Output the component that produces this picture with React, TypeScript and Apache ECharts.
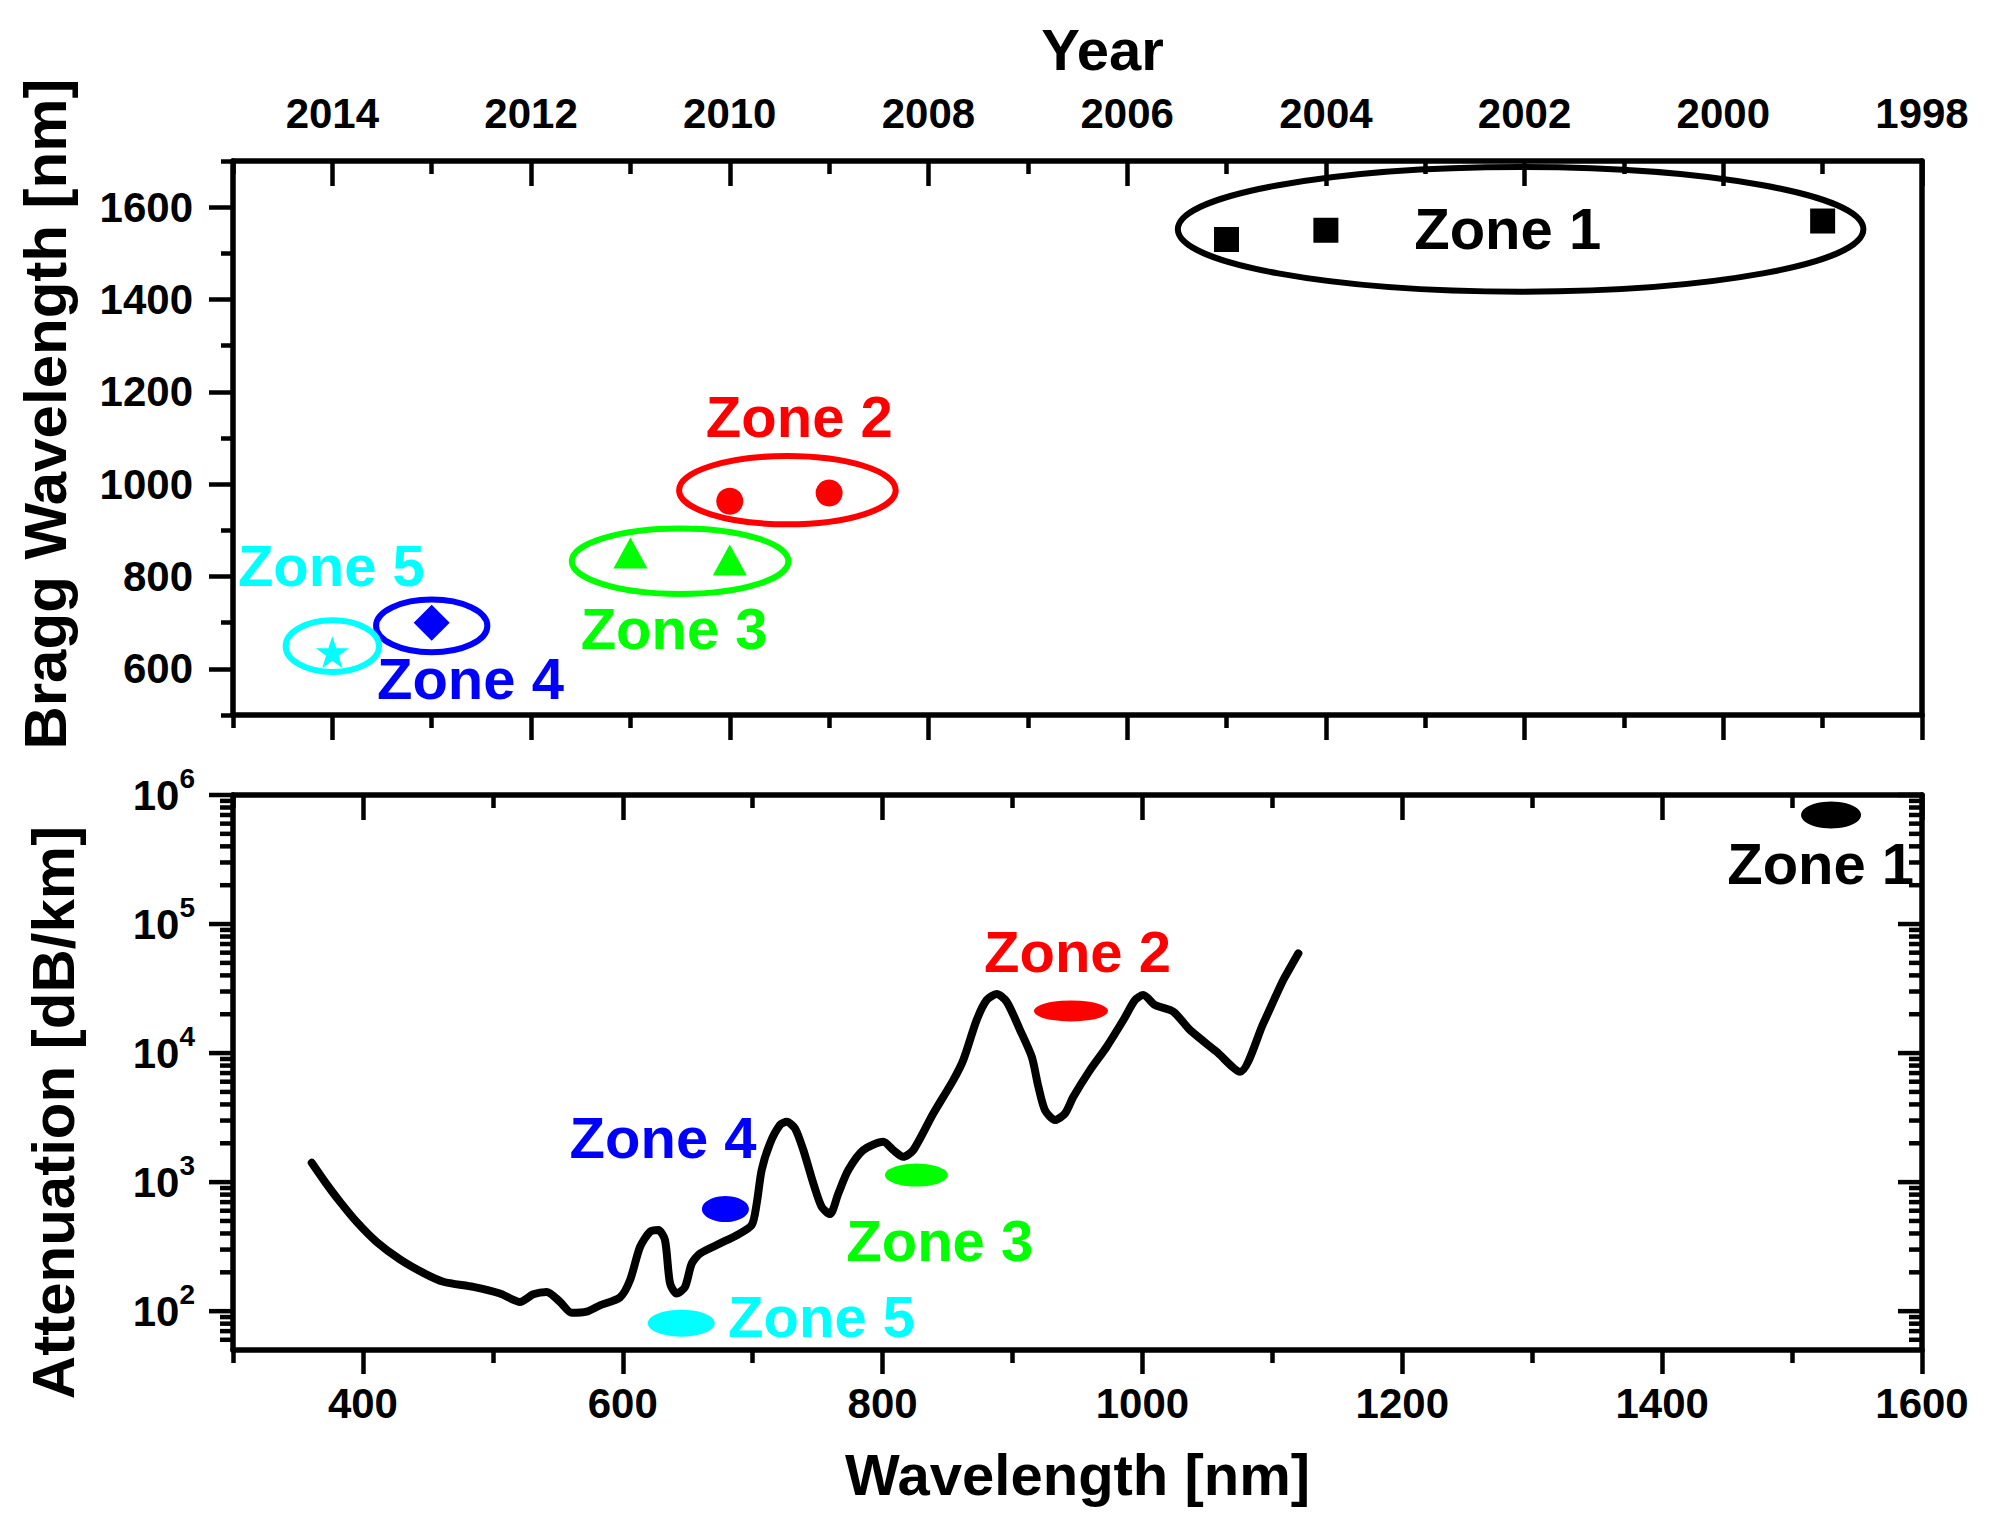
import React, { useEffect, useRef } from 'react';
import * as echarts from 'echarts';

const FONT = '"Liberation Sans", Arial, Helvetica, sans-serif';

// --- zones ---
const zoneNames = ['Zone 1', 'Zone 2', 'Zone 3', 'Zone 4', 'Zone 5'];
const zoneColors = ['#000000', '#FF0000', '#00FF00', '#0000FF', '#00FFFF'];
const STAR = 'path://M12,0 L14.9,8.6 L24,8.6 L16.6,14 L19.4,22.8 L12,17.4 L4.6,22.8 L7.4,14 L0,8.6 L9.1,8.6 Z';
const zoneSymbols = ['rect', 'circle', 'triangle', 'diamond', STAR];
const zoneSymbolSizes = [[25, 25], [27, 27], [34, 31], [36, 36], [33, 32]];

// --- top panel: Bragg wavelength [nm] vs year ---
const braggZone1 = [[2005, 1530], [2004, 1550], [1999, 1570]];
const braggZone2 = [[2010, 963], [2009, 981]];
const braggZone3 = [[2011, 851], [2010, 836]];
const braggZone4 = [[2013, 700]];
const braggZone5 = [[2014, 636]];
const braggPoints = [braggZone1, braggZone2, braggZone3, braggZone4, braggZone5];

// ellipse round each zone: [centre year, centre nm, half width (years), half height (nm)]
const braggEllipses = [
  [2002.04, 1552, 3.45, 135],
  [2009.42, 987, 1.09, 74],
  [2010.5, 833, 1.09, 71],
  [2013.0, 693, 0.56, 57],
  [2014.0, 649, 0.47, 56],
];
const braggLabelAt = [[2002.17, 1554], [2009.3, 1147], [2010.56, 688], [2012.61, 580], [2014.01, 824]];

const yearMajor = [1998, 2000, 2002, 2004, 2006, 2008, 2010, 2012, 2014];
const yearMinor = [1999, 2001, 2003, 2005, 2007, 2009, 2011, 2013, 2015];
const braggMajor = [600, 800, 1000, 1200, 1400, 1600];
const braggMinor = [500, 700, 900, 1100, 1300, 1500, 1700];

// --- bottom panel: attenuation [dB/km] vs wavelength [nm] ---
const attenuationCurve = [
  [360.6, 1412], [370.8, 1005], [382.4, 703], [395.2, 492], [410.6, 344], [428.5, 252],
  [446.5, 198], [461.9, 169], [485, 154], [505.5, 137], [520.9, 118], [531.1, 135],
  [541.4, 141], [551.7, 118], [560.7, 97], [572.2, 99], [582.5, 111], [597.9, 128],
  [605.6, 174], [613.3, 315], [621, 412], [627.4, 425], [632.5, 355], [636.4, 164],
  [641.5, 137], [647.9, 154], [653.1, 234], [659.5, 280], [674.9, 335], [687.7, 388],
  [699.2, 464], [703.1, 684], [706.9, 1239], [713.3, 1995], [721, 2767], [726.2, 2930],
  [732.6, 2606], [739, 1770], [746.7, 977], [753.1, 643], [759.5, 565], [765.9, 817],
  [773.6, 1239], [785.1, 1770], [800.5, 2052], [808.2, 1770], [815.9, 1570], [823.6, 1770],
  [839, 3404], [854.4, 6175], [862.1, 8830], [872.4, 18030], [880.1, 25770], [887.8, 28660],
  [895.5, 25000], [905.8, 15080], [914.8, 9350], [919.9, 5480], [925, 3610], [932.7, 3027],
  [940.4, 3404], [946.8, 4580], [959.6, 7380], [972.5, 11200], [985.3, 18030], [994.3, 25770],
  [1000.6, 28180], [1009.7, 23550], [1023.8, 20900], [1036.6, 15080], [1057.1, 10230],
  [1075.1, 7160], [1093, 16980], [1108.4, 36800], [1120, 59290],
];
const zoneAttenuation = [[1530, 7.0e5], [945, 2.12e4], [826, 1133], [679, 618], [645, 80.7]];
const zoneMarkSizes = [[60, 27], [74, 21], [63, 23], [47, 26], [67, 27]];
const attLabelAt = [[1522, 2.97e5], [950, 6.18e4], [844, 355], [631, 2233], [753, 91.4]];

const nmMajor = [400, 600, 800, 1000, 1200, 1400, 1600];
const nmMinor = [300, 500, 700, 900, 1100, 1300, 1500];
const logMajor = [1e2, 1e3, 1e4, 1e5, 1e6];
const logMinor = [
  60, 70, 80, 90,
  200, 300, 400, 500, 600, 700, 800, 900,
  2000, 3000, 4000, 5000, 6000, 7000, 8000, 9000,
  20000, 30000, 40000, 50000, 60000, 70000, 80000, 90000,
  200000, 300000, 400000, 500000, 600000, 700000, 800000, 900000,
];

const NM_MIN = 300;
const NM_MAX = 1600;

const axisLine = { show: true, onZero: false, lineStyle: { color: '#000', width: 5.5 } };
const tickStyle = { color: '#000', width: 4.5 };
const tickLabel = { fontSize: 42, fontWeight: 'bold', fontFamily: FONT, color: '#000' };
const nameStyle = { fontSize: 58, fontWeight: 'bold', fontFamily: FONT, color: '#000' };

const tickAxis = (base: any, values: number[], length: number, inside: boolean, line: boolean) => ({
  ...base,
  axisLine: line ? axisLine : { show: false },
  axisTick: { show: true, inside, length, customValues: values, lineStyle: tickStyle },
  axisLabel: { show: false },
  splitLine: { show: false },
});

const App: React.FC = () => {
  const chartRef = useRef<HTMLDivElement>(null);

  useEffect(() => {
    if (!chartRef.current) return;
    const chart = echarts.init(chartRef.current, null, { renderer: 'svg' });

    const yearBase = { type: 'value', gridIndex: 0, min: 1998, max: 2015, inverse: true };
    const braggBase = { type: 'value', gridIndex: 0, min: 500, max: 1700 };
    const nmBase = { type: 'value', gridIndex: 1, min: NM_MIN, max: NM_MAX };
    const attBase = { type: 'log', logBase: 10, gridIndex: 1, min: 50, max: 1e6 };

    // log-axis ticks (left outside, right inside), placed through the axis scale
    const logTicks = (values: number[], length: number) => ({
      type: 'custom',
      xAxisIndex: 4,
      yAxisIndex: 3,
      silent: true,
      z: 5,
      data: values.map(v => [NM_MIN, v]),
      renderItem: (_params: any, api: any) => {
        const v = api.value(1);
        const l = api.coord([NM_MIN, v]);
        const r = api.coord([NM_MAX, v]);
        return {
          type: 'group',
          children: [
            { type: 'line', shape: { x1: l[0] - length, y1: l[1], x2: l[0], y2: l[1] }, style: { stroke: '#000', lineWidth: 4.5 } },
            { type: 'line', shape: { x1: r[0] - length, y1: r[1], x2: r[0], y2: r[1] }, style: { stroke: '#000', lineWidth: 4.5 } },
          ],
        };
      },
    });

    const labelSeries = (xi: number, yi: number, at: number[][]) => ({
      type: 'scatter',
      xAxisIndex: xi,
      yAxisIndex: yi,
      silent: true,
      z: 6,
      symbolSize: 1,
      itemStyle: { color: 'transparent', opacity: 1 },
      data: at.map((p, i) => ({
        value: p,
        name: zoneNames[i],
        label: { color: zoneColors[i] },
      })),
      label: {
        show: true,
        position: 'inside',
        formatter: (p: any) => p.name,
        fontSize: 58,
        fontWeight: 'bold',
        fontFamily: FONT,
        opacity: 1,
        textBorderWidth: 0,
      },
    });

    chart.setOption({
      animation: false,
      backgroundColor: '#ffffff',
      grid: [
        { left: 233, top: 161, width: 1689, height: 554, outerBoundsMode: 'none' },
        { left: 233, top: 795, width: 1689, height: 555, outerBoundsMode: 'none' },
      ],
      xAxis: [
        {
          ...yearBase,
          position: 'top',
          axisLine,
          axisTick: { show: true, inside: true, length: 25, customValues: yearMajor, lineStyle: tickStyle },
          axisLabel: { ...tickLabel, customValues: yearMajor, margin: 27, formatter: (v: number) => String(v) },
          splitLine: { show: false },
          name: 'Year',
          nameLocation: 'middle',
          nameGap: 83,
          nameTextStyle: { ...nameStyle, padding: [0, 0, 0, 50] },
        },
        tickAxis({ ...yearBase, position: 'top' }, yearMinor, 13, true, false),
        tickAxis({ ...yearBase, position: 'bottom' }, yearMajor, 25, false, true),
        tickAxis({ ...yearBase, position: 'bottom' }, yearMinor, 13, false, false),
        {
          ...nmBase,
          position: 'bottom',
          axisLine,
          axisTick: { show: true, inside: false, length: 24, customValues: nmMajor, lineStyle: tickStyle },
          axisLabel: { ...tickLabel, customValues: nmMajor, margin: 32, formatter: (v: number) => String(v) },
          splitLine: { show: false },
          name: 'Wavelength [nm]',
          nameLocation: 'middle',
          nameGap: 95,
          nameTextStyle: nameStyle,
        },
        tickAxis({ ...nmBase, position: 'bottom' }, nmMinor, 13, false, false),
        tickAxis({ ...nmBase, position: 'top' }, nmMajor, 25, true, true),
        tickAxis({ ...nmBase, position: 'top' }, nmMinor, 13, true, false),
      ],
      yAxis: [
        {
          ...braggBase,
          position: 'left',
          axisLine,
          axisTick: { show: true, inside: false, length: 24, customValues: braggMajor, lineStyle: tickStyle },
          axisLabel: { ...tickLabel, customValues: braggMajor, margin: 40, formatter: (v: number) => String(v) },
          splitLine: { show: false },
          name: 'Bragg Wavelength [nm]',
          nameLocation: 'middle',
          nameGap: 158,
          nameTextStyle: { ...nameStyle, fontSize: 60, padding: [0, 0, 0, 48] },
        },
        tickAxis({ ...braggBase, position: 'left' }, braggMinor, 12, false, false),
        {
          ...braggBase,
          position: 'right',
          axisLine,
          axisTick: { show: false },
          axisLabel: { show: false },
          splitLine: { show: false },
        },
        {
          ...attBase,
          position: 'left',
          axisLine,
          axisTick: { show: false },
          axisLabel: {
            ...tickLabel,
            margin: 38,
            formatter: (v: number) => {
              const e = Math.round(Math.log10(v));
              if (Math.abs(v - Math.pow(10, e)) > 1e-6 * v) return '';
              return `{b|10}{s|${e}}`;
            },
            rich: {
              b: { fontSize: 42, fontWeight: 'bold', fontFamily: FONT, color: '#000', lineHeight: 62, verticalAlign: 'middle' },
              s: { fontSize: 28, fontWeight: 'bold', fontFamily: FONT, color: '#000', lineHeight: 28, verticalAlign: 'top' },
            },
          },
          splitLine: { show: false },
          name: 'Attenuation [dB/km]',
          nameLocation: 'middle',
          nameGap: 150,
          nameTextStyle: { ...nameStyle, fontSize: 60, padding: [0, 80, 0, 0] },
        },
        {
          ...attBase,
          position: 'right',
          axisLine,
          axisTick: { show: false },
          axisLabel: { show: false },
          splitLine: { show: false },
        },
      ],
      series: [
        // zone ellipses (top)
        {
          type: 'custom',
          xAxisIndex: 0,
          yAxisIndex: 0,
          silent: true,
          z: 3,
          data: braggEllipses,
          renderItem: (params: any, api: any) => {
            const cx = api.value(0);
            const cy = api.value(1);
            const c = api.coord([cx, cy]);
            const e = api.coord([cx + api.value(2), cy + api.value(3)]);
            return {
              type: 'ellipse',
              shape: { cx: c[0], cy: c[1], rx: Math.abs(e[0] - c[0]), ry: Math.abs(e[1] - c[1]) },
              style: { fill: 'none', stroke: zoneColors[params.dataIndex], lineWidth: 6 },
            };
          },
        },
        // zone points (top)
        ...braggPoints.map((pts, i) => ({
          type: 'scatter',
          name: zoneNames[i],
          xAxisIndex: 0,
          yAxisIndex: 0,
          z: 4,
          symbol: zoneSymbols[i],
          symbolSize: zoneSymbolSizes[i],
          itemStyle: { color: zoneColors[i], opacity: 1 },
          data: pts,
        })),
        labelSeries(0, 0, braggLabelAt),
        // attenuation curve (bottom)
        {
          type: 'line',
          xAxisIndex: 4,
          yAxisIndex: 3,
          data: attenuationCurve,
          showSymbol: false,
          symbol: 'none',
          smooth: 0.25,
          lineStyle: { color: '#000', width: 8, join: 'round', cap: 'round' },
          z: 3,
        },
        {
          type: 'scatter',
          xAxisIndex: 4,
          yAxisIndex: 3,
          z: 4,
          symbol: 'circle',
          data: zoneAttenuation.map((p, i) => ({
            value: p,
            symbolSize: zoneMarkSizes[i],
            itemStyle: { color: zoneColors[i], opacity: 1 },
          })),
        },
        labelSeries(4, 3, attLabelAt),
        logTicks(logMajor, 24),
        logTicks(logMinor, 13),
      ],
    });

    return () => {
      chart.dispose();
    };
  }, []);

  return (
    <div style={{ position: 'fixed', left: 0, top: 0, width: 1989, height: 1528, background: '#fff' }}>
      <div ref={chartRef} style={{ width: 1989, height: 1528 }} />
    </div>
  );
};

export default App;
